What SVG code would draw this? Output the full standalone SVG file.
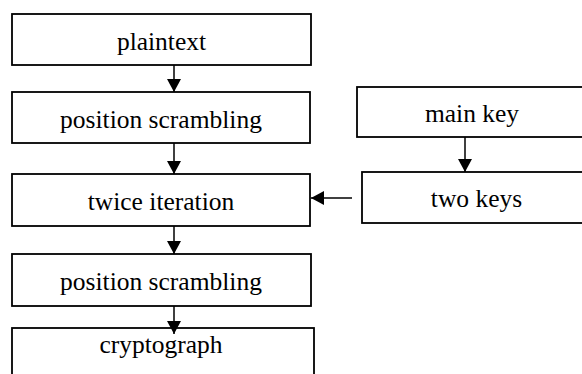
<svg xmlns="http://www.w3.org/2000/svg" width="582" height="374" viewBox="0 0 582 374">
<defs>
<style>
.box{fill:#fff;stroke:#000;stroke-width:1.8}
.lbl{font-family:"Liberation Serif","Times New Roman",serif;font-size:25.5px;fill:#000;text-anchor:middle}
.con{stroke:#000;stroke-width:1.5;fill:none}
</style>
<marker id="ah" markerWidth="14" markerHeight="14" refX="13" refY="7" orient="auto" markerUnits="userSpaceOnUse">
<path d="M0,0 L13,7 L0,14 Z" fill="#000"/>
</marker>
</defs>
<rect width="582" height="374" fill="#fff"/>
<g id="n-plaintext"><rect class="box" x="12" y="14" width="299" height="51"/><text class="lbl" x="161.5" y="50">plaintext</text></g>
<g id="n-scramble1"><rect class="box" x="12" y="92" width="298" height="51"/><text class="lbl" x="161" y="128">position scrambling</text></g>
<g id="n-iteration"><rect class="box" x="12" y="174" width="298" height="52"/><text class="lbl" x="161" y="210">twice iteration</text></g>
<g id="n-scramble2"><rect class="box" x="12" y="254" width="299" height="52"/><text class="lbl" x="161" y="290">position scrambling</text></g>
<g id="n-cryptograph"><rect class="box" x="12" y="328" width="302" height="56"/><text class="lbl" x="161" y="353">cryptograph</text></g>
<g id="n-mainkey"><rect class="box" x="357" y="87" width="232" height="50"/><text class="lbl" x="472" y="122">main key</text></g>
<g id="n-twokeys"><rect class="box" x="362" y="172" width="232" height="51"/><text class="lbl" x="476.5" y="207">two keys</text></g>
<g id="connectors">
<line class="con" x1="174" y1="65" x2="174" y2="92" marker-end="url(#ah)"/>
<line class="con" x1="174" y1="143" x2="174" y2="174" marker-end="url(#ah)"/>
<line class="con" x1="174" y1="226" x2="174" y2="254" marker-end="url(#ah)"/>
<line class="con" x1="174" y1="306" x2="174" y2="334" marker-end="url(#ah)"/>
<line class="con" x1="465" y1="137" x2="465" y2="172" marker-end="url(#ah)"/>
<line class="con" x1="352" y1="198" x2="311" y2="198" marker-end="url(#ah)"/>
</g>
</svg>
